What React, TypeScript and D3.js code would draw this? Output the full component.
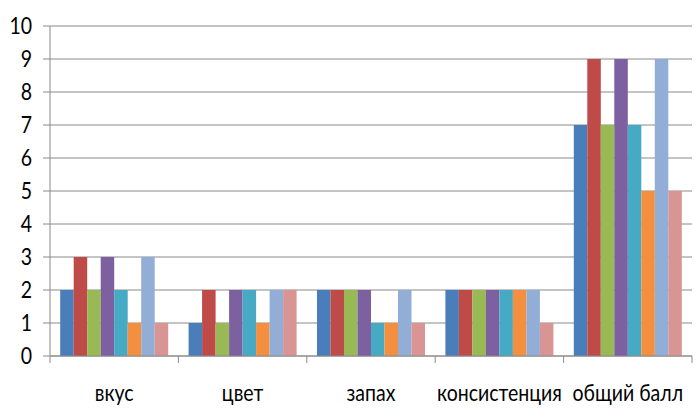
import React from "react";
import * as d3 from "d3";

const categories = ["вкус", "цвет", "запах", "консистенция", "общий балл"];
const seriesNames = ["s1", "s2", "s3", "s4", "s5", "s6", "s7", "s8"];
const seriesColors = ["#4A7EBB", "#BE4B48", "#98B954", "#7D60A0", "#46AAC5", "#F38F3F", "#93AED6", "#D99593"];
const values = [
  [2, 3, 2, 3, 2, 1, 3, 1],
  [1, 2, 1, 2, 2, 1, 2, 2],
  [2, 2, 2, 2, 1, 1, 2, 1],
  [2, 2, 2, 2, 2, 2, 2, 1],
  [7, 9, 7, 9, 7, 5, 9, 5],
];
const yTicks = [0, 1, 2, 3, 4, 5, 6, 7, 8, 9, 10];

export default function App() {
  const W = 697, H = 417;
  const left = 50, right = 692, top = 26, bottom = 356;
  const x = d3.scaleBand<string>().domain(categories).range([left, right]).paddingInner(0).paddingOuter(0);
  const xi = d3.scaleBand<string>().domain(seriesNames).range([0, x.bandwidth()]).paddingInner(0).paddingOuter(0.755);
  const y = d3.scaleLinear().domain([0, 10]).range([bottom, top]);
  const font = "Lato, 'Open Sans', sans-serif";
  const grid = "#8a8a8a";
  return (
    <svg width={W} height={H} style={{ position: "absolute", left: 0, top: 0, background: "#fff" }}>
      {yTicks.map((t) => (
        <g key={t}>
          <line x1={left - 7} x2={right} y1={y(t)} y2={y(t)} stroke={grid} strokeWidth={1} />
          <text
            x={32}
            y={y(t)}
            textAnchor="end"
            fontFamily={font}
            fontSize={19.5}
            fill="#000"
            transform={`translate(0 ${y(t)}) scale(1 1.2) translate(0 ${-y(t)})`}
            dy="0.36em"
          >
            {t}
          </text>
        </g>
      ))}
      {categories.map((c, ci) =>
        seriesNames.map((s, si) => (
          <rect
            key={c + s}
            x={(x(c) as number) + (xi(s) as number)}
            width={xi.bandwidth()}
            y={y(values[ci][si])}
            height={bottom - y(values[ci][si])}
            fill={seriesColors[si]}
          />
        ))
      )}
      <line x1={left} x2={left} y1={top} y2={bottom + 7} stroke={grid} />
      <line x1={left} x2={right} y1={bottom} y2={bottom} stroke={grid} />
      {categories.map((c) => (
        <line key={"t" + c} x1={(x(c) as number) + x.bandwidth()} x2={(x(c) as number) + x.bandwidth()} y1={bottom} y2={bottom + 7} stroke={grid} />
      ))}
      {categories.map((c) => {
        const cx = (x(c) as number) + x.bandwidth() / 2;
        return (
          <text
            key={"l" + c}
            x={cx}
            y={401}
            textAnchor="middle"
            fontFamily={font}
            fontSize={19.5}
            fill="#000"
            transform={`translate(0 401) scale(1 1.2) translate(0 -401)`}
          >
            {c}
          </text>
        );
      })}
    </svg>
  );
}
